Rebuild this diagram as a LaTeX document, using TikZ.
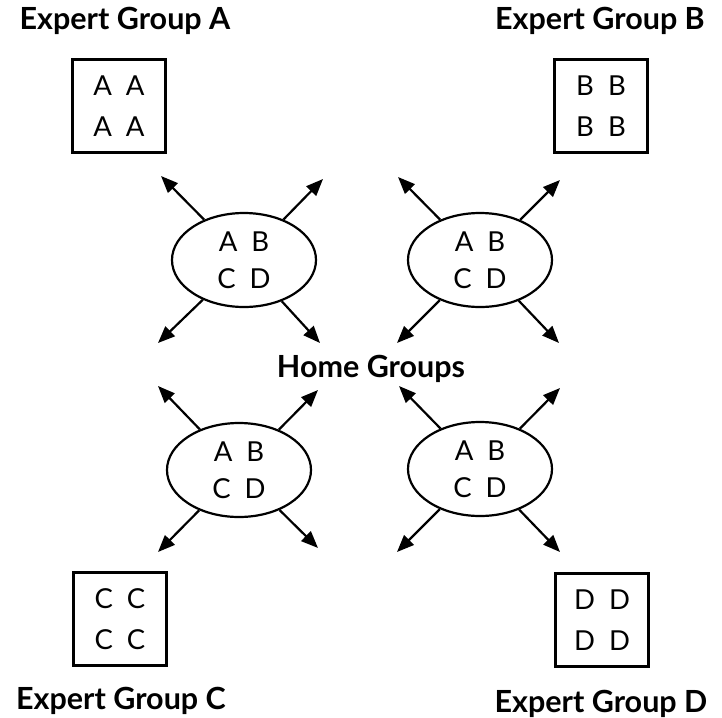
\documentclass[tikz,border=0pt]{standalone}
\usepackage{fontspec}
\setmainfont{Lato}
\usetikzlibrary{arrows.meta,shapes.geometric}
\begin{document}
\begin{tikzpicture}[x=1pt,y=-1pt,
  title/.style={font=\bfseries\fontsize{30.5}{33}\selectfont, anchor=base, inner sep=0},
  expbox/.style={draw, line width=2.2pt, minimum size=93pt, inner sep=0, align=center,
    font=\fontsize{27.5}{41}\selectfont},
  home/.style={draw, ellipse, line width=2.2pt, minimum width=144pt, minimum height=94pt,
    inner sep=0, align=center, font=\fontsize{27.5}{37}\selectfont},
  arr/.style={line width=2.2pt, -{Triangle[length=17pt,width=13.5pt]}}]
\useasboundingbox (0,0) rectangle (722,717);
\fill[white] (0,0) rectangle (722,717);
% titles
\node[title] (tA) at (125,30) {Expert Group A};
\node[title] (tB) at (600,30) {Expert Group B};
\node[title] (tC) at (121,709) {Expert Group C};
\node[title] (tD) at (601,712) {Expert Group D};
\node[title] (tH) at (371,377) {Home Groups};
% expert boxes
\node[expbox] (bA) at (119,106) {A\hspace{14pt}A\\A\hspace{14pt}A};
\node[expbox] (bB) at (601,106) {B\hspace{14pt}B\\B\hspace{14pt}B};
\node[expbox] (bC) at (120,619) {C\hspace{14pt}C\\C\hspace{14pt}C};
\node[expbox] (bD) at (602,620) {D\hspace{14pt}D\\D\hspace{14pt}D};
% home groups
\node[home] (e1) at (244,260) {A\hspace{14pt}B\\C\hspace{14pt}D};
\node[home] (e2) at (480,260) {A\hspace{14pt}B\\C\hspace{14pt}D};
\node[home] (e3) at (239,470) {A\hspace{14pt}B\\C\hspace{14pt}D};
\node[home] (e4) at (480,469) {A\hspace{14pt}B\\C\hspace{14pt}D};
% arrow tips
\coordinate (e1tl) at (161,176); \coordinate (e1tr) at (323,179);
\coordinate (e1bl) at (158,343); \coordinate (e1br) at (320,343);
\coordinate (e2tl) at (398,177); \coordinate (e2tr) at (560,180);
\coordinate (e2bl) at (397,343); \coordinate (e2br) at (559,343);
\coordinate (e3tl) at (158,386); \coordinate (e3tr) at (318,390);
\coordinate (e3bl) at (158,552); \coordinate (e3br) at (318,548);
\coordinate (e4tl) at (399,386); \coordinate (e4tr) at (560,388);
\coordinate (e4bl) at (397,552); \coordinate (e4br) at (560,552);
\foreach \e in {e1,e2,e3,e4}{
  \foreach \c in {tl,tr,bl,br}{
    \draw[arr] (\e) -- (\e\c);
  }
}
\end{tikzpicture}
\end{document}
